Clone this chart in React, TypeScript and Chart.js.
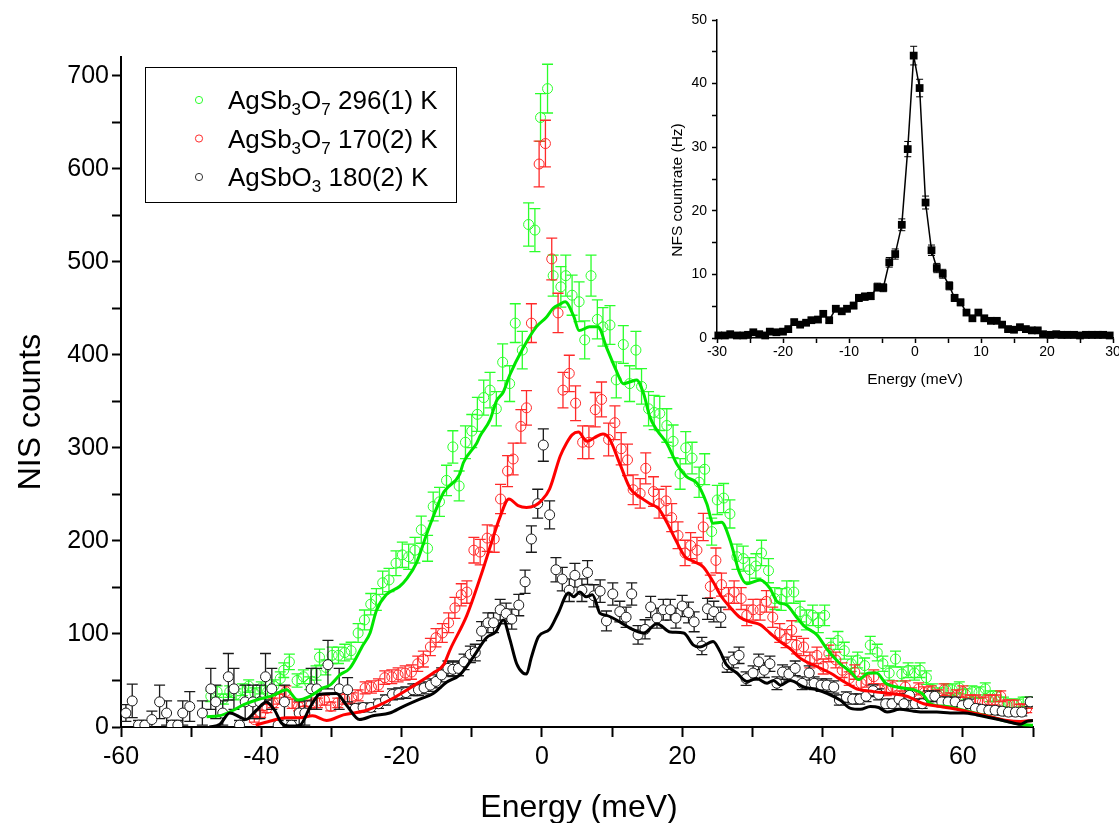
import React, { useEffect, useRef } from "react";
import { Chart, registerables } from "chart.js";

Chart.register(...registerables);

const FONT = '"Liberation Sans", Arial, Helvetica, sans-serif';

// ---------------- Main panel: NIS data (energy in meV, counts) ----------------
const greenEnergy = [-47.2, -46.3, -45.4, -44.5, -43.6, -42.7, -41.8, -40.9, -40.0, -39.1, -38.2, -37.3, -36.8, -36.0, -34.9, -34.0, -33.1, -32.2, -31.7, -30.8, -29.9, -29.0, -28.1, -27.2, -26.2, -25.3, -24.4, -23.6, -22.7, -21.8, -20.8, -19.9, -19.0, -18.1, -17.2, -16.3, -15.5, -14.6, -13.6, -12.7, -11.8, -10.9, -10.0, -9.2, -8.3, -7.4, -6.5, -5.6, -4.6, -3.8, -2.8, -1.9, -1.0, -0.2, 0.8, 1.6, 2.7, 3.4, 4.3, 5.3, 6.1, 7.0, 7.9, 8.7, 9.7, 10.6, 11.6, 12.5, 13.4, 14.2, 15.2, 16.0, 16.8, 17.8, 18.7, 19.7, 20.5, 21.4, 22.4, 23.2, 24.2, 25.0, 25.9, 26.8, 27.8, 28.7, 29.6, 30.5, 31.3, 32.3, 33.2, 34.1, 34.9, 35.9, 36.8, 37.7, 38.6, 39.4, 40.3, 41.2, 42.2, 43.1, 44.1, 45.0, 46.0, 46.8, 47.8, 48.6, 49.5, 50.4, 51.3, 52.2, 53.1, 53.9, 54.8, 55.7, 56.6, 57.6, 58.5, 59.5, 60.4, 61.3, 62.3, 63.2, 63.9, 64.8, 65.8, 66.7, 67.7, 68.6, 69.6];
const greenCounts = [33, 38, 30, 38, 35, 40, 44, 36, 42, 38, 44, 52, 61, 70, 50, 54, 47, 58, 75, 64, 77, 77, 80, 82, 101, 115, 132, 137, 155, 158, 176, 185, 183, 190, 212, 192, 237, 242, 265, 301, 259, 306, 318, 336, 354, 362, 342, 392, 369, 434, 405, 540, 534, 655, 686, 485, 473, 485, 464, 457, 416, 485, 438, 430, 432, 373, 411, 369, 405, 366, 342, 338, 337, 324, 307, 272, 300, 289, 263, 277, 210, 244, 246, 229, 183, 181, 169, 173, 187, 168, 138, 137, 145, 145, 124, 115, 120, 112, 120, 86, 93, 82, 68, 72, 66, 88, 80, 68, 58, 73, 57, 61, 58, 61, 53, 40, 36, 40, 40, 42, 35, 38, 37, 41, 33, 33, 27, 25, 25, 27, 27];

const redEnergy = [-41.0, -40.1, -39.2, -38.3, -37.4, -36.5, -35.6, -34.7, -33.8, -32.9, -32.0, -31.0, -30.1, -29.1, -28.1, -27.1, -26.2, -25.2, -24.3, -23.3, -22.4, -21.4, -20.5, -19.5, -18.6, -17.7, -16.9, -15.9, -15.1, -14.2, -13.3, -12.4, -11.5, -10.7, -9.7, -8.8, -7.8, -6.8, -5.9, -4.9, -4.1, -3.0, -2.2, -1.5, -0.4, 0.5, 1.4, 2.3, 3.0, 3.9, 4.8, 5.8, 6.7, 7.6, 8.5, 9.5, 10.4, 11.3, 12.2, 13.0, 14.0, 14.8, 15.9, 16.7, 17.7, 18.5, 19.4, 20.4, 21.2, 22.1, 23.0, 24.0, 24.8, 25.6, 26.6, 27.4, 28.4, 29.2, 30.1, 31.1, 32.0, 32.9, 33.9, 34.8, 35.6, 36.3, 37.3, 38.2, 39.2, 40.1, 40.9, 41.9, 42.8, 43.8, 44.6, 45.5, 46.3, 47.3, 48.2, 49.1, 50.0, 51.0, 51.8, 52.7, 53.7, 54.5, 55.5, 56.4, 57.3, 58.2, 59.1, 60.0, 61.0, 61.8, 62.8, 63.7, 64.6, 65.4, 66.3, 67.3, 68.2, 69.1, 69.8];
const redCounts = [8, 14, 20, 26, 30, 38, 25, 22, 18, 24, 26, 29, 22, 26, 30, 31, 34, 42, 43, 45, 53, 54, 56, 58, 59, 68, 73, 86, 96, 101, 112, 128, 142, 145, 190, 188, 203, 202, 245, 275, 288, 323, 343, 434, 605, 627, 503, 445, 362, 380, 348, 306, 306, 341, 352, 309, 327, 299, 287, 255, 251, 278, 253, 240, 243, 225, 206, 187, 195, 190, 215, 151, 179, 153, 138, 145, 138, 120, 126, 126, 135, 118, 101, 95, 104, 88, 86, 72, 77, 65, 79, 72, 61, 52, 59, 47, 50, 54, 40, 40, 43, 33, 43, 36, 41, 37, 38, 34, 40, 31, 34, 38, 29, 29, 27, 29, 29, 33, 24, 24, 20, 20, 25];

const blackEnergy = [-59.3, -58.4, -57.5, -56.6, -55.6, -54.5, -53.5, -52.8, -51.9, -51.2, -50.2, -48.4, -47.2, -46.5, -45.5, -44.7, -43.9, -43.1, -42.3, -41.2, -40.2, -39.4, -38.5, -37.6, -36.7, -35.7, -34.6, -33.8, -32.9, -32.1, -30.5, -28.9, -27.7, -26.6, -25.5, -24.4, -23.3, -22.3, -21.3, -20.4, -19.4, -18.4, -17.6, -16.8, -15.9, -15.1, -14.3, -13.4, -12.7, -11.9, -11.1, -10.2, -9.5, -8.6, -7.7, -6.9, -5.95, -5.1, -4.3, -3.3, -2.4, -1.5, -0.6, 0.2, 1.1, 2.0, 2.9, 3.9, 4.7, 5.7, 6.5, 7.4, 8.3, 9.2, 10.1, 11.1, 12.0, 12.8, 13.7, 14.7, 15.5, 16.4, 17.3, 18.3, 19.1, 20.0, 20.9, 21.7, 22.8, 23.6, 24.5, 25.5, 26.4, 27.3, 28.1, 29.1, 30.1, 30.9, 31.7, 32.5, 33.5, 34.3, 35.2, 36.1, 37.1, 38.1, 38.8, 39.8, 40.6, 41.6, 42.4, 43.4, 44.3, 45.3, 46.2, 47.2, 48.0, 49.0, 49.9, 50.9, 51.6, 52.4, 53.2, 54.2, 55.1, 56.0, 57.0, 57.9, 58.9, 59.9, 60.8, 61.8, 62.7, 63.7, 64.6, 65.6, 66.5, 67.5, 68.4, 69.6];
const blackCounts = [15, 28, 2, 2, 8, 27, 15, 2, 2, 15, 22, 15, 41, 27, 15, 54, 41, 2, 27, 27, 27, 54, 41, 2, 27, 2, 15, 15, 41, 41, 67, 41, 40, 20, 21, 21, 25, 29, 35, 36, 37, 40, 40, 42, 45, 49, 56, 63, 62, 63, 70, 78, 80, 103, 112, 112, 126, 122, 116, 131, 156, 202, 240, 303, 228, 169, 159, 147, 163, 147, 166, 141, 146, 114, 143, 124, 118, 143, 99, 105, 129, 117, 126, 126, 117, 130, 123, 113, 87, 127, 124, 118, 67, 72, 77, 52, 58, 70, 61, 68, 47, 59, 57, 63, 47, 58, 47, 45, 45, 43, 29, 32, 30, 30, 33, 39, 35, 25, 25, 30, 25, 34, 25, 25, 33, 33, 27, 27, 27, 23, 25, 20, 19, 18, 18, 17, 16, 16, 16, 27];
// larger uncertainties (E < -27 meV)
const blackTailErrors = [9, 18, 5, 5, 9, 18, 13, 5, 5, 13, 16, 13, 22, 18, 13, 25, 22, 5, 18, 18, 18, 25, 22, 5, 18, 5, 13, 13, 22, 22, 26, 22, 13];

// calculated curves (solid lines)
const greenLineEnergy = [-47.8, -46.0, -44.0, -42.5, -40.7, -38.3, -36.4, -34.8, -33.1, -31.2, -30.2, -28.8, -27.4, -25.5, -24.5, -23.6, -22.2, -20.3, -19.2, -17.9, -16.4, -14.1, -13.6, -11.7, -11.2, -9.3, -8.8, -7.4, -6.5, -5.5, -4.6, -2.7, -0.8, 0.6, 1.6, 2.5, 3.3, 4.5, 5.3, 6.8, 8.0, 9.2, 10.6, 11.6, 12.6, 13.5, 14.5, 15.4, 16.4, 17.8, 19.2, 20.6, 22.1, 23.5, 24.4, 25.6, 26.8, 28.2, 29.2, 31.1, 32.5, 33.5, 34.9, 36.3, 37.3, 39.2, 40.7, 42.5, 44.2, 45.1, 46.6, 47.7, 49.0, 50.6, 53.0, 54.2, 55.4, 57.7, 60.1, 62.9, 65.8, 68.2, 70.0];
const greenLineCounts = [11, 12, 18, 24, 29, 34, 40, 29, 33, 42, 45, 56, 63, 88, 101, 125, 142, 151, 160, 176, 208, 251, 256, 272, 284, 305, 313, 330, 350, 360, 378, 407, 430, 440, 450, 454, 457, 442, 426, 430, 430, 408, 383, 369, 371, 373, 358, 333, 319, 305, 283, 269, 262, 240, 219, 220, 201, 165, 154, 158, 149, 135, 131, 118, 109, 99, 83, 68, 58, 51, 58, 58, 47, 43, 40, 36, 25, 22, 18, 13, 7, 3, 2];

const redLineEnergy = [-40.8, -38.4, -36.5, -34.5, -32.7, -30.7, -28.3, -25.0, -21.7, -18.8, -15.5, -14.0, -13.1, -10.7, -8.6, -6.9, -6.0, -4.7, -3.4, -2.2, -1.0, -0.1, 1.1, 2.6, 3.5, 4.3, 5.2, 6.4, 7.5, 8.7, 9.6, 11.1, 12.6, 14.0, 15.4, 16.6, 17.8, 19.2, 20.4, 21.6, 23.0, 24.4, 25.6, 26.8, 28.2, 29.7, 31.1, 32.5, 33.9, 35.4, 36.8, 39.2, 41.1, 43.0, 44.9, 47.3, 49.6, 52.0, 54.4, 56.8, 59.2, 61.5, 63.9, 66.3, 68.2, 70.0];
const redLineCounts = [2, 7, 10, 10, 12, 7, 13, 18, 29, 42, 58, 67, 83, 120, 165, 205, 225, 245, 238, 236, 238, 243, 256, 291, 305, 314, 317, 307, 311, 315, 310, 283, 256, 247, 240, 235, 220, 199, 183, 178, 172, 156, 140, 129, 118, 113, 110, 101, 92, 84, 74, 65, 58, 49, 41, 38, 36, 33, 25, 22, 19, 15, 11, 7, 6, 7];

const blackLineEnergy = [-47.4, -45.9, -44.5, -43.1, -42.2, -40.7, -39.3, -38.1, -37.1, -36.0, -34.5, -33.0, -31.7, -29.3, -27.9, -26.0, -24.1, -21.7, -19.8, -17.4, -15.5, -13.6, -11.7, -9.8, -7.9, -6.6, -5.5, -4.6, -3.6, -2.7, -2.2, -1.5, -0.5, 1.1, 2.3, 3.8, 4.5, 5.4, 6.3, 7.2, 8.3, 9.2, 11.1, 12.6, 14.5, 16.4, 18.3, 20.2, 21.6, 22.5, 24.4, 25.4, 26.3, 27.8, 29.2, 30.6, 32.1, 33.0, 34.0, 35.4, 37.3, 39.2, 40.7, 42.5, 44.0, 45.4, 46.8, 48.0, 49.2, 51.0, 53.0, 54.4, 56.3, 58.2, 60.1, 62.0, 63.9, 66.3, 68.2, 69.1, 70.0];
const blackLineCounts = [0, 3, 15, 11, 8, 18, 27, 18, 4, 1, 2, 22, 35, 36, 24, 8, 12, 15, 22, 30, 36, 48, 56, 75, 96, 102, 115, 95, 68, 58, 57, 75, 97, 105, 122, 144, 140, 145, 140, 142, 122, 120, 113, 106, 101, 111, 102, 101, 88, 86, 92, 81, 67, 58, 49, 52, 47, 50, 45, 50, 43, 40, 36, 29, 20, 19, 22, 21, 16, 19, 17, 16, 16, 15, 15, 13, 10, 6, 3, 6, 7];

// ---------------- Inset: NFS data ----------------
const nfsEnergy = [-29.8, -28.8, -28.0, -27.0, -26.0, -25.3, -24.5, -23.6, -22.7, -22.0, -21.0, -20.0, -19.2, -18.3, -17.4, -16.5, -15.7, -14.7, -13.9, -13.0, -12.0, -11.1, -10.3, -9.3, -8.5, -7.6, -6.7, -5.7, -4.8, -3.9, -3.0, -2.0, -1.1, -0.2, 0.7, 1.6, 2.5, 3.3, 4.2, 5.2, 6.0, 6.9, 7.8, 8.7, 9.6, 10.5, 11.5, 12.4, 13.2, 14.1, 15.0, 15.9, 16.8, 17.7, 18.6, 19.4, 20.5, 21.4, 22.2, 23.1, 24.1, 25.0, 25.9, 26.8, 27.7, 28.5, 29.5];
const nfsRate = [0.4, 0.4, 0.6, 0.4, 0.4, 0.5, 0.9, 0.6, 0.4, 1.0, 0.9, 1.0, 1.4, 2.5, 2.1, 2.4, 2.8, 2.9, 3.8, 2.8, 4.6, 4.2, 4.6, 5.1, 6.3, 6.5, 6.6, 8.0, 7.9, 11.9, 13.2, 17.8, 29.7, 44.4, 39.3, 21.3, 13.8, 11.0, 10.1, 8.2, 6.3, 5.6, 4.0, 3.1, 4.0, 3.1, 2.7, 2.7, 2.1, 1.4, 1.3, 1.7, 1.4, 1.2, 1.2, 0.6, 0.5, 0.6, 0.5, 0.5, 0.5, 0.4, 0.5, 0.5, 0.5, 0.5, 0.4];

// ---------------- Ticks / text ----------------
const mainXTicks = [-60, -50, -40, -30, -20, -10, 0, 10, 20, 30, 40, 50, 60, 70];
const mainXTickLabels = [-60, -40, -20, 0, 20, 40, 60];
const mainYTicks = [0, 50, 100, 150, 200, 250, 300, 350, 400, 450, 500, 550, 600, 650, 700];
const mainYTickLabels = [0, 100, 200, 300, 400, 500, 600, 700];
const insetXTicks = [-30, -25, -20, -15, -10, -5, 0, 5, 10, 15, 20, 25, 30];
const insetXTickLabels = [-30, -20, -10, 0, 10, 20, 30];
const insetYTicks = [0, 5, 10, 15, 20, 25, 30, 35, 40, 45, 50];
const insetYTickLabels = [0, 10, 20, 30, 40, 50];

const legendRows: [string, boolean][][] = [
  [["AgSb", false], ["3", true], ["O", false], ["7", true], [" 296(1) K", false]],
  [["AgSb", false], ["3", true], ["O", false], ["7", true], [" 170(2) K", false]],
  [["AgSbO", false], ["3", true], [" 180(2) K", false]],
];

const GREEN_PT = "#2bff2b";
const GREEN_LINE = "#00e600";
const RED_PT = "#ff2a2a";
const RED_LINE = "#ff0000";
const BLACK_PT = "#1a1a1a";
const BLACK_LINE = "#000000";
const legendColors = [GREEN_PT, RED_PT, "#333333"];

const pts = (xs: number[], ys: number[]) => xs.map((x, i) => ({ x, y: ys[i] }));
// Poisson counting uncertainty of each channel
const poisson = (ys: number[]) => ys.map((v) => Math.sqrt(Math.max(v, 1)));
// NFS rate uncertainty (counting statistics of a rate)
const rateErr = (ys: number[]) => ys.map((v) => 0.22 * Math.sqrt(v));
const blackErrors = blackCounts.map((v, i) => (i < blackTailErrors.length ? blackTailErrors[i] : Math.sqrt(Math.max(v, 1))));

const fixedTicks = (values: number[]) => (s: any) => {
  s.ticks = values.map((value) => ({ value }));
};

const errorBarPlugin = {
  id: "errorBars",
  beforeDatasetDraw(chart: any, args: any) {
    const ds = chart.data.datasets[args.index];
    if (!ds.errors) return;
    const { ctx, chartArea, scales } = chart;
    const xs = scales.x;
    const ys = scales.y;
    ctx.save();
    ctx.beginPath();
    ctx.rect(chartArea.left, chartArea.top - 30, chartArea.right - chartArea.left, chartArea.bottom - chartArea.top + 30);
    ctx.clip();
    ctx.strokeStyle = ds.errorColor;
    ctx.lineWidth = ds.errorWidth;
    const cap = ds.capHalf;
    ds.data.forEach((p: any, i: number) => {
      const e = ds.errors[i];
      const px = xs.getPixelForValue(p.x);
      const top = ys.getPixelForValue(p.y + e);
      const bot = ys.getPixelForValue(p.y - e);
      ctx.beginPath();
      ctx.moveTo(px, top);
      ctx.lineTo(px, bot);
      ctx.moveTo(px - cap, top);
      ctx.lineTo(px + cap, top);
      ctx.moveTo(px - cap, bot);
      ctx.lineTo(px + cap, bot);
      ctx.stroke();
    });
    ctx.restore();
  },
};

const mainDecor = {
  id: "mainDecor",
  afterDraw(chart: any) {
    const { ctx } = chart;
    ctx.save();
    ctx.fillStyle = "#000";
    ctx.font = `32px ${FONT}`;
    ctx.textAlign = "center";
    ctx.textBaseline = "alphabetic";
    ctx.fillText("Energy (meV)", 579, 817);
    ctx.save();
    ctx.translate(40, 412);
    ctx.rotate(-Math.PI / 2);
    ctx.fillText("NIS counts", 0, 0);
    ctx.restore();
    // legend box
    ctx.strokeStyle = "#000";
    ctx.lineWidth = 1;
    ctx.strokeRect(145.5, 67.5, 311, 135);
    const rowsY = [109, 147.5, 186];
    legendRows.forEach((row, r) => {
      const cy = rowsY[r] - 9;
      ctx.beginPath();
      ctx.arc(199, cy, 3.6, 0, Math.PI * 2);
      ctx.strokeStyle = legendColors[r];
      ctx.lineWidth = 1;
      ctx.stroke();
      let cx = 228;
      ctx.textAlign = "left";
      ctx.fillStyle = "#000";
      row.forEach(([t, sub]) => {
        ctx.font = sub ? `17px ${FONT}` : `26px ${FONT}`;
        ctx.fillText(t, cx, sub ? rowsY[r] + 6 : rowsY[r]);
        cx += ctx.measureText(t).width;
      });
    });
    ctx.restore();
  },
};

const insetDecor = {
  id: "insetDecor",
  afterDraw(chart: any) {
    const { ctx } = chart;
    ctx.save();
    ctx.fillStyle = "#000";
    ctx.font = `15.5px ${FONT}`;
    ctx.textAlign = "center";
    ctx.textBaseline = "alphabetic";
    ctx.fillText("Energy (meV)", 265, 384);
    ctx.save();
    ctx.translate(32, 190);
    ctx.rotate(-Math.PI / 2);
    ctx.fillText("NFS countrate (Hz)", 0, 0);
    ctx.restore();
    ctx.restore();
  },
};

function axisCommon(tickLen: number, width: number) {
  return {
    grid: { display: true, drawOnChartArea: false, drawTicks: true, tickLength: tickLen, tickWidth: width, tickColor: "#000" },
    border: { display: true, width, color: "#000" },
  };
}

export default function App() {
  const mainRef = useRef<HTMLCanvasElement>(null);
  const insetRef = useRef<HTMLCanvasElement>(null);

  useEffect(() => {
    if (!mainRef.current || !insetRef.current) return;

    const pointSet = (label: string, xs: number[], ys: number[], errs: number[], color: string, fill: string, order: number) => ({
      label,
      data: pts(xs, ys),
      errors: errs,
      errorColor: color,
      errorWidth: 1.3,
      capHalf: 5.5,
      showLine: false,
      pointStyle: "circle",
      pointRadius: 5,
      pointBorderWidth: 1,
      pointBorderColor: color,
      pointBackgroundColor: fill,
      order,
      clip: 0,
    });
    const lineSet = (label: string, xs: number[], ys: number[], color: string, order: number) => ({
      label,
      data: pts(xs, ys),
      showLine: true,
      borderColor: color,
      borderWidth: 3,
      pointRadius: 0,
      cubicInterpolationMode: "monotone",
      order,
      clip: 0,
    });

    const main = new Chart(mainRef.current, {
      type: "scatter",
      data: {
        datasets: [
          pointSet("AgSb3O7 296(1) K", greenEnergy, greenCounts, poisson(greenCounts), GREEN_PT, "rgba(255,255,255,0)", 5),
          pointSet("AgSb3O7 170(2) K", redEnergy, redCounts, poisson(redCounts), RED_PT, "rgba(255,255,255,0)", 4),
          pointSet("AgSbO3 180(2) K", blackEnergy, blackCounts, blackErrors, BLACK_PT, "#ffffff", 3),
          lineSet("fit 296 K", greenLineEnergy, greenLineCounts, GREEN_LINE, 2),
          lineSet("fit 170 K", redLineEnergy, redLineCounts, RED_LINE, 1),
          lineSet("fit AgSbO3", blackLineEnergy, blackLineCounts, BLACK_LINE, 0),
        ] as any,
      },
      options: {
        responsive: false,
        animation: false,
        devicePixelRatio: 1,
        events: [],
        layout: { padding: { top: 57, right: 86, left: 0, bottom: 0 } },
        plugins: { legend: { display: false }, tooltip: { enabled: false } },
        scales: {
          x: {
            type: "linear",
            min: -60,
            max: 70,
            afterBuildTicks: fixedTicks(mainXTicks),
            afterFit: (s: any) => {
              s.height = 96;
              s.paddingLeft = 0;
              s.paddingRight = 0;
            },
            ticks: {
              autoSkip: false,
              maxRotation: 0,
              minRotation: 0,
              padding: 5,
              color: "#000",
              font: { family: FONT, size: 25 },
              callback: (v: any) => (mainXTickLabels.includes(Math.round(v)) ? String(Math.round(v)) : ""),
            },
            ...axisCommon(10, 2),
          },
          y: {
            type: "linear",
            min: 0,
            max: 720,
            afterBuildTicks: fixedTicks(mainYTicks),
            afterFit: (s: any) => {
              s.width = 121;
              s.paddingTop = 0;
              s.paddingBottom = 0;
            },
            ticks: {
              autoSkip: false,
              padding: 3,
              color: "#000",
              font: { family: FONT, size: 25 },
              callback: (v: any) => (mainYTickLabels.includes(Math.round(v)) ? String(Math.round(v)) : ""),
            },
            ...axisCommon(9, 2),
          },
        },
      } as any,
      plugins: [errorBarPlugin, mainDecor],
    });

    const inset = new Chart(insetRef.current, {
      type: "scatter",
      data: {
        datasets: [
          {
            label: "NFS",
            data: pts(nfsEnergy, nfsRate),
            errors: rateErr(nfsRate),
            errorColor: "#000",
            errorWidth: 1,
            capHalf: 3.5,
            showLine: true,
            borderColor: "#000",
            borderWidth: 1.5,
            pointStyle: "rect",
            pointRadius: 5.5,
            pointBorderWidth: 0,
            pointBackgroundColor: "#000",
            pointBorderColor: "#000",
            clip: 5,
          },
        ] as any,
      },
      options: {
        responsive: false,
        animation: false,
        devicePixelRatio: 1,
        events: [],
        layout: { padding: { top: 20, right: 6, left: 0, bottom: 0 } },
        plugins: { legend: { display: false }, tooltip: { enabled: false } },
        scales: {
          x: {
            type: "linear",
            min: -30,
            max: 30,
            afterBuildTicks: fixedTicks(insetXTicks),
            afterFit: (s: any) => {
              s.height = 62;
              s.paddingLeft = 0;
              s.paddingRight = 0;
            },
            ticks: {
              autoSkip: false,
              maxRotation: 0,
              minRotation: 0,
              padding: 1,
              color: "#000",
              font: { family: FONT, size: 14 },
              callback: (v: any) => (insetXTickLabels.includes(Math.round(v)) ? String(Math.round(v)) : ""),
            },
            ...axisCommon(5, 1.5),
          },
          y: {
            type: "linear",
            min: 0,
            max: 50,
            afterBuildTicks: fixedTicks(insetYTicks),
            afterFit: (s: any) => {
              s.width = 67;
              s.paddingTop = 0;
              s.paddingBottom = 0;
            },
            ticks: {
              autoSkip: false,
              padding: 5,
              color: "#000",
              font: { family: FONT, size: 14 },
              callback: (v: any) => (insetYTickLabels.includes(Math.round(v)) ? String(Math.round(v)) : ""),
            },
            ...axisCommon(5, 1.5),
          },
        },
      } as any,
      plugins: [errorBarPlugin, insetDecor],
    });

    return () => {
      main.destroy();
      inset.destroy();
    };
  }, []);

  return (
    <div style={{ position: "fixed", left: 0, top: 0, width: 1119, height: 823, background: "#fff", overflow: "hidden" }}>
      <canvas ref={mainRef} width={1119} height={823} style={{ position: "absolute", left: 0, top: 0 }} />
      <canvas ref={insetRef} width={469} height={400} style={{ position: "absolute", left: 650, top: 0 }} />
    </div>
  );
}
